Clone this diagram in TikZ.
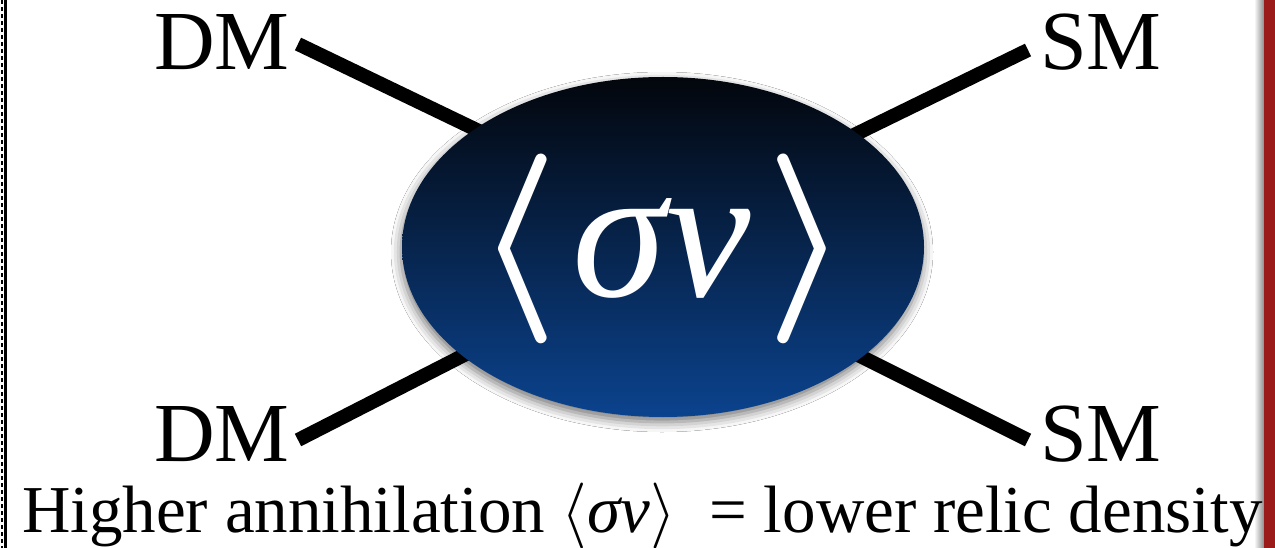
\documentclass[tikz,border=0pt]{standalone}
\usepackage{fontspec}
\usepackage{graphicx}
\setmainfont{Liberation Serif}
\usetikzlibrary{shapes.geometric,shadows.blur}
\definecolor{ellTop}{HTML}{03060C}
\definecolor{ellBot}{HTML}{0B438E}
\definecolor{edgeRed}{HTML}{9B1B1B}
\newcommand{\bigla}[1]{\scalebox{#1}{\fontsize{10}{10}\selectfont$\langle$}}
\newcommand{\bigra}[1]{\scalebox{#1}{\fontsize{10}{10}\selectfont$\rangle$}}
\newcommand{\bigbla}[1]{\scalebox{#1}{\fontsize{10}{10}\selectfont\boldmath$\langle$}}
\newcommand{\bigbra}[1]{\scalebox{#1}{\fontsize{10}{10}\selectfont\boldmath$\rangle$}}
\tikzset{
  lbl/.style={anchor=base west, inner sep=0pt, font=\fontsize{84}{84}\selectfont},
  leg/.style={line width=14pt, black},
}
\begin{document}
\begin{tikzpicture}[x=1pt,y=-1pt]
\useasboundingbox (0,0) rectangle (1275,548);
\fill[white] (0,0) rectangle (1275,548);
% left border
\draw[line width=3pt] (5.5,0) -- (5.5,548);
\draw[line width=2pt, dash pattern=on 4pt off 3pt] (1.5,0) -- (1.5,548);
% right border
\shade[left color=white, right color=black!45] (1254,0) rectangle (1264,548);
\fill[edgeRed] (1264,0) rectangle (1275,548);
% labels
\node[lbl] (dm1) at (154,70) {DM};
\node[lbl] (sm1) at (1040,70) {SM};
\node[lbl] (dm2) at (154,461) {DM};
\node[lbl] (sm2) at (1040,461) {SM};
% line ends
\coordinate (e1) at (298,44);
\coordinate (e2) at (1028,50);
\coordinate (e3) at (298,440);
\coordinate (e4) at (1028,440);
\coordinate (i1) at (560,170);
\coordinate (i2) at (770,176);
\coordinate (i3) at (560,306);
\coordinate (i4) at (770,311);
\draw[leg] (e1) -- (i1);
\draw[leg] (e2) -- (i2);
\draw[leg] (e3) -- (i3);
\draw[leg] (e4) -- (i4);
% blob
\node[ellipse, minimum width=522pt, minimum height=340pt, inner sep=0pt,
      top color=ellTop, bottom color=ellBot,
      blur shadow={shadow xshift=-1pt, shadow yshift=-5pt, shadow blur radius=10pt, shadow opacity=55}]
      (blob) at (663,247) {};
\node[anchor=base, inner sep=0pt, text=white, font=\fontsize{190}{190}\selectfont]
      (sv) at (662,297) {\bigbla{19}\kern14pt\textit{σv}\kern14pt\bigbra{19}};
% caption
\node[anchor=base west, inner sep=0pt, font=\fontsize{67}{67}\selectfont]
      (cap) at (22,532) {Higher annihilation \bigla{6.6}\textit{σv}\bigra{6.6}\ \ = lower relic density};
\end{tikzpicture}
\end{document}
